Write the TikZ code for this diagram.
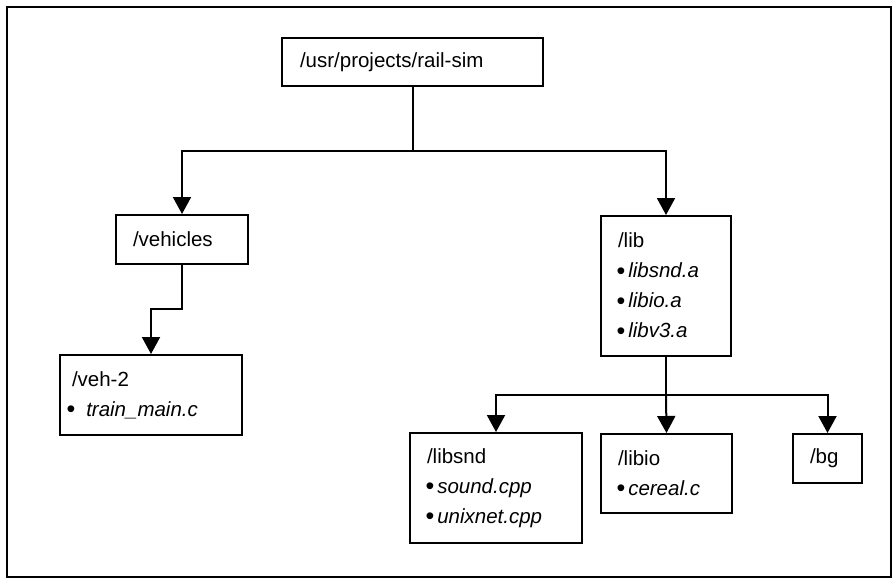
\documentclass[tikz,border=0pt]{standalone}
\usepackage{fontspec}
\setmainfont{Liberation Sans}
\usetikzlibrary{arrows.meta}
\newcommand{\bigbul}{\raisebox{-1.5pt}{\fontsize{25}{30}\selectfont\textbullet}}
\begin{document}
\begin{tikzpicture}[x=1pt,y=-1pt,
  box/.style={draw, line width=2pt, inner ysep=0pt, align=left, font=\fontsize{20.5}{30}\selectfont},
  conn/.style={line width=2pt},
  arr/.style={conn, -{Triangle[width=18pt,length=17pt]}}]
\useasboundingbox (0,0) rectangle (896,582);
\draw[line width=2pt] (7,7) rectangle (891,577);
\node[box, minimum width=261pt, minimum height=48pt, text width=225pt, inner xsep=18pt] (root) at (412.5,62) {/usr/projects/rail-sim};
\node[box, minimum width=132pt, minimum height=49pt, text width=98pt, inner xsep=17pt] (vehicles) at (182,239.5) {/vehicles};
\node[box, minimum width=182pt, minimum height=80pt, text width=169pt, inner xsep=6.5pt] (veh2) at (151,395) {\hspace*{5.5pt}/veh-2\\\bigbul\hspace{11pt}\textit{train\_main.c}};
\node[box, minimum width=130pt, minimum height=140pt, text width=99pt, inner xsep=15.5pt] (lib) at (666,286) {\hspace*{1.5pt}/lib\\\bigbul\hspace{3pt}\textit{libsnd.a}\\\bigbul\hspace{3pt}\textit{libio.a}\\\bigbul\hspace{3pt}\textit{libv3.a}};
\node[box, minimum width=172pt, minimum height=110pt, text width=141pt, inner xsep=15.5pt] (libsnd) at (496,488) {\hspace*{1.5pt}/libsnd\\\bigbul\hspace{3pt}\textit{sound.cpp}\\\bigbul\hspace{3pt}\textit{unixnet.cpp}};
\node[box, minimum width=131pt, minimum height=79pt, text width=100pt, inner xsep=15.5pt] (libio) at (666.5,473.5) {\hspace*{1.5pt}/libio\\\bigbul\hspace{3pt}\textit{cereal.c}};
\node[box, minimum width=69pt, minimum height=49pt, text width=35pt, inner xsep=17pt] (bg) at (827.5,458.5) {/bg};
\coordinate (j1) at (412.5,151);
\draw[conn] (root.south) -- (j1);
\draw[arr] (j1) -| (vehicles.north);
\draw[arr] (j1) -| (lib.north);
\draw[arr] (vehicles.south) -- ++(0,44) -| (veh2.north);
\coordinate (j2) at (666,395);
\draw[conn] (lib.south) -- (j2);
\draw[arr] (j2) -| (libsnd.north);
\draw[arr] (j2) -- (libio.north);
\draw[arr] (j2) -| (bg.north);
\end{tikzpicture}
\end{document}
